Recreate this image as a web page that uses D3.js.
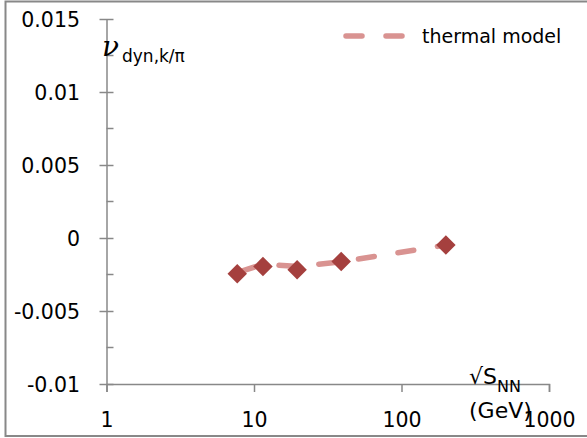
<!DOCTYPE html>
<html>
<head>
<meta charset="utf-8">
<script src="https://cdn.jsdelivr.net/npm/d3@7"></script>
<style>
  html, body { margin: 0; padding: 0; background: #fff; }
  svg { display: block; }
  text { font-family: "DejaVu Sans", sans-serif; fill: #000; }
</style>
</head>
<body>
<div id="chart"></div>
<script>
// Collision energies (GeV) and nu_dyn,K/pi values
const energies = [7.7, 11.5, 19.6, 39, 200];
const measured = [-0.00245, -0.00195, -0.00218, -0.00161, -0.00048];
const thermalModel = [-0.00236, -0.00180, -0.00195, -0.00163, -0.00048];

const xTickValues = [1, 10, 100, 1000];
const xTickLabels = ["1", "10", "100", "1000"];
const yTickValues = [-0.01, -0.005, 0, 0.005, 0.01, 0.015];
const yTickLabels = ["-0.01", "-0.005", "0", "0.005", "0.01", "0.015"];
const yMinorValues = [-0.0075, -0.0025, 0.0025, 0.0075, 0.0125];

const W = 587, H = 438;
const axisColor = "#888888";
const lineColor = "#D99391";
const markerColor = "#A5403E";

const svg = d3.select("#chart").append("svg")
  .attr("width", W).attr("height", H);

// chart frame
svg.append("rect")
  .attr("x", 5.5).attr("y", 1.5)
  .attr("width", W + 10).attr("height", 434.5)
  .attr("fill", "#fff").attr("stroke", axisColor).attr("stroke-width", 2);

const x = d3.scaleLog().domain([1, 1000]).range([106.5, 549]);
const y = d3.scaleLinear().domain([-0.01, 0.015]).range([384, 19]);

// y axis
const gy = svg.append("g").attr("transform", `translate(${x(1)},0)`)
  .call(d3.axisLeft(y).tickValues(yTickValues).tickSizeOuter(0)
    .tickFormat((d, i) => yTickLabels[i]));
gy.select(".domain").attr("stroke", axisColor).attr("stroke-width", 1.5);
gy.selectAll(".tick line").attr("stroke", axisColor).attr("stroke-width", 1.5)
  .attr("x1", -7).attr("x2", 7);
gy.selectAll(".tick text").attr("x", -26.5).attr("dy", "0.36em")
  .style("font-size", "20.5px").style("font-family", "DejaVu Sans, sans-serif")
  .attr("fill", "#000");

// y minor ticks
svg.append("g").selectAll("line").data(yMinorValues).join("line")
  .attr("x1", x(1)).attr("x2", x(1) + 7)
  .attr("y1", d => y(d)).attr("y2", d => y(d))
  .attr("stroke", axisColor).attr("stroke-width", 1.5);

// x axis
const gx = svg.append("g").attr("transform", `translate(0,${y(-0.01)})`)
  .call(d3.axisBottom(x).tickValues(xTickValues).tickSizeOuter(0)
    .tickSize(8).tickFormat((d, i) => xTickLabels[i]));
gx.select(".domain").attr("stroke", axisColor).attr("stroke-width", 1.5);
gx.selectAll(".tick line").attr("stroke", axisColor).attr("stroke-width", 1.5);
gx.selectAll(".tick text").attr("y", 43).attr("dy", 0)
  .style("font-size", "20.5px").style("font-family", "DejaVu Sans, sans-serif")
  .attr("fill", "#000");

// thermal model curve
const pts = energies.map((e, i) => [x(e), y(thermalModel[i])]);
svg.append("path")
  .attr("d", d3.line()(pts))
  .attr("fill", "none")
  .attr("stroke", lineColor)
  .attr("stroke-width", 5.5)
  .attr("stroke-linecap", "round")
  .attr("stroke-dasharray", "16 24")
  .attr("stroke-dashoffset", -3);

// measured points
svg.append("g").selectAll("path").data(energies).join("path")
  .attr("d", d3.symbol().type(d3.symbolSquare).size(190))
  .attr("transform", (d, i) => `translate(${x(d)},${y(measured[i])}) rotate(45)`)
  .attr("fill", markerColor);

// legend
svg.append("line")
  .attr("x1", 346).attr("x2", 403).attr("y1", 36).attr("y2", 36)
  .attr("stroke", lineColor).attr("stroke-width", 5.5)
  .attr("stroke-linecap", "round").attr("stroke-dasharray", "16 24");
svg.append("text").attr("x", 422).attr("y", 43)
  .style("font-size", "19px").text("thermal model");

// y axis title
const yt = svg.append("text").attr("x", 102).attr("y", 56);
yt.append("tspan").style("font-family", "DejaVu Serif, serif")
  .style("font-style", "italic").style("font-size", "28px").text("ν");
yt.append("tspan").attr("x", 122).attr("y", 62)
  .style("font-size", "17px").text("dyn,k/π");

// x axis title
const xt = svg.append("text").attr("x", 469).attr("y", 384).style("font-size", "22px");
xt.append("tspan").text("√S");
xt.append("tspan").attr("dy", 8).style("font-size", "16px").text("NN");
svg.append("text").attr("x", 469).attr("y", 418).style("font-size", "22px").text("(GeV)");
</script>
</body>
</html>
